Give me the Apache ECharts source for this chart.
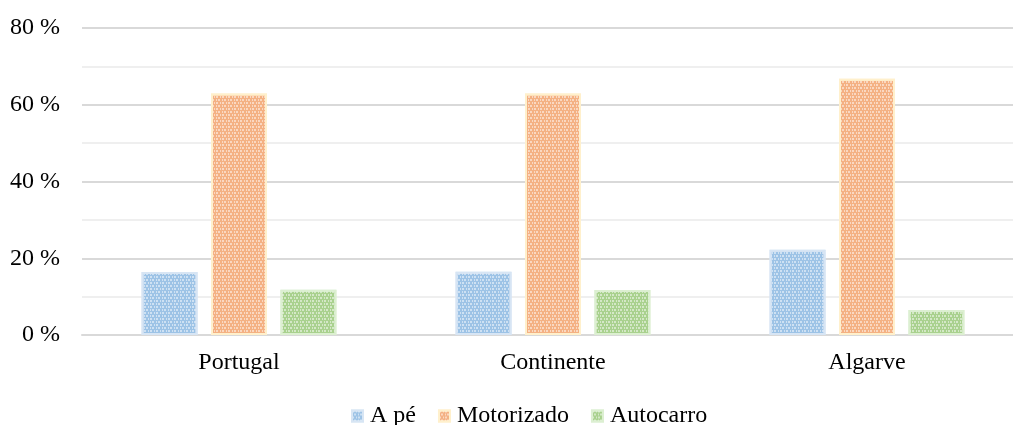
<!DOCTYPE html>
<html>
<head>
<meta charset="utf-8">
<script src="https://cdn.jsdelivr.net/npm/echarts@6/dist/echarts.min.js"></script>
<style>
  html, body { margin: 0; padding: 0; background: #ffffff; }
  #chart { width: 1013px; height: 425px; }
</style>
</head>
<body>
<div id="chart"></div>
<script>
// Modal split of trips by region (percent)
const categories = ['Portugal', 'Continente', 'Algarve'];
const seriesNames = ['A pé', 'Motorizado', 'Autocarro'];
const aPe = [16.4, 16.5, 22.2];
const motorizado = [62.9, 62.9, 66.8];
const autocarro = [11.8, 11.7, 6.5];
const yTicks = [0, 20, 40, 60, 80];

const FONT = '"Liberation Serif", "Times New Roman", serif';

// small woven texture laid over each bar
function weave(color) {
  return {
    symbol: 'rect',
    symbolSize: 1,
    color: color,
    dashArrayX: [[1, 1, 2, 2], [2, 2, 1, 1]],
    dashArrayY: [2, 1],
    rotation: 0
  };
}

const styles = [
  { fill: '#9dc3e6', border: '#d7e5f4', light: 'rgba(255,255,255,0.5)' },
  { fill: '#f4b183', border: '#fff0cc', light: 'rgba(255,255,255,0.5)' },
  { fill: '#a9d18e', border: '#dcefd1', light: 'rgba(255,255,255,0.5)' }
];
const values = [aPe, motorizado, autocarro];

const chart = echarts.init(document.getElementById('chart'), null, { renderer: 'canvas' });

chart.setOption({
  animation: false,
  backgroundColor: '#ffffff',
  textStyle: { fontFamily: FONT },
  // plot area runs a little past the right edge of the canvas
  grid: { left: 82, width: 942, top: 28, bottom: 90, containLabel: false, outerBoundsMode: 'none' },
  legend: {
    top: 399,
    left: 346,
    itemWidth: 11,
    itemHeight: 11,
    itemGap: 22,
    icon: 'rect',
    textStyle: { fontFamily: FONT, fontSize: 24, color: '#000000', padding: [0, 0, 0, 2] },
    data: seriesNames
  },
  xAxis: {
    type: 'category',
    data: categories,
    axisLine: { show: true, lineStyle: { color: '#d9d9d9', width: 2 } },
    axisTick: { show: false },
    axisLabel: { fontFamily: FONT, fontSize: 24, color: '#000000', margin: 16 }
  },
  yAxis: {
    type: 'value',
    min: yTicks[0],
    max: yTicks[yTicks.length - 1],
    interval: 20,
    axisLine: { show: false },
    axisTick: { show: false },
    axisLabel: {
      fontFamily: FONT, fontSize: 24, color: '#000000', margin: 22,
      formatter: v => v + ' %'
    },
    splitLine: { show: true, lineStyle: { color: '#d9d9d9', width: 2 } },
    minorTick: { show: false, splitNumber: 2 },
    minorSplitLine: { show: true, lineStyle: { color: '#efefef', width: 2 } }
  },
  series: seriesNames.map((name, i) => ({
    name: name,
    type: 'bar',
    data: values[i],
    barWidth: 56,
    barGap: '24%',
    itemStyle: {
      color: styles[i].fill,
      borderColor: styles[i].border,
      borderWidth: 2,
      decal: weave(styles[i].light)
    }
  }))
});
</script>
</body>
</html>
